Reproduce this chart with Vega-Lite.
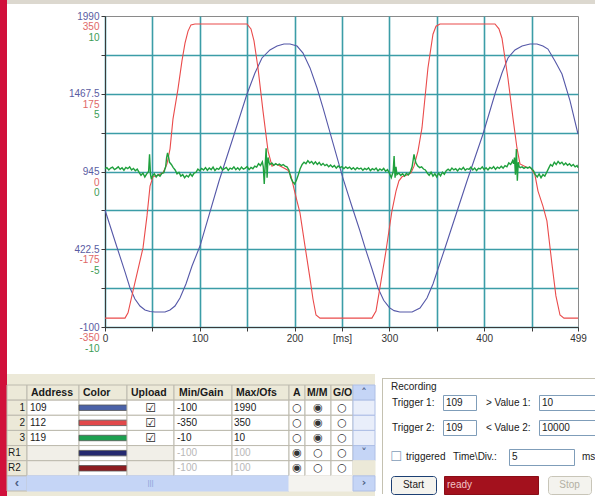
{
"$schema":"https://vega.github.io/schema/vega-lite/v6.json",
"padding":0,
"background":"#ffffff",
"config":{"font":"Liberation Sans","view":{"stroke":null,"fill":"#ece9d8"},"concat":{"spacing":0},"text":{"fontSize":10,"color":"#1a1a1a"}},
"datasets":{
"blue":[{"t":0,"v":686},{"t":10.5,"v":478},{"t":21.1,"v":270},{"t":26.4,"v":162},{"t":31.6,"v":88},{"t":36.9,"v":41},{"t":42.2,"v":14},{"t":47.5,"v":4},{"t":52.7,"v":1},{"t":63.3,"v":1},{"t":68.6,"v":14},{"t":73.8,"v":41},{"t":79.1,"v":95},{"t":85.4,"v":189},{"t":91.8,"v":310},{"t":100.2,"v":444},{"t":120.3,"v":881},{"t":135,"v":1170},{"t":149.8,"v":1466},{"t":158.2,"v":1607},{"t":165.6,"v":1708},{"t":174,"v":1762},{"t":181.5,"v":1788},{"t":188.8,"v":1802},{"t":195.2,"v":1802},{"t":202.6,"v":1788},{"t":208.9,"v":1741},{"t":216.3,"v":1641},{"t":223.7,"v":1506},{"t":230,"v":1372},{"t":251,"v":901},{"t":260,"v":720},{"t":269,"v":545},{"t":275,"v":420},{"t":281.7,"v":290},{"t":288,"v":162},{"t":294,"v":80},{"t":300,"v":30},{"t":305,"v":10},{"t":311,"v":1},{"t":324,"v":1},{"t":332.3,"v":28},{"t":339.7,"v":95},{"t":346,"v":189},{"t":358.7,"v":431},{"t":381.9,"v":881},{"t":398.8,"v":1197},{"t":411.4,"v":1466},{"t":418.8,"v":1607},{"t":425.1,"v":1708},{"t":432.5,"v":1762},{"t":440,"v":1788},{"t":448.4,"v":1802},{"t":455.7,"v":1802},{"t":462,"v":1788},{"t":467.3,"v":1768},{"t":474.7,"v":1688},{"t":482.1,"v":1600},{"t":490.6,"v":1419},{"t":499,"v":1197}],
"red":[{"t":0,"v":-330},{"t":21.1,"v":-330},{"t":24.3,"v":-318},{"t":29.5,"v":-269},{"t":40.1,"v":-172},{"t":44.3,"v":-100},{"t":47.5,"v":-33},{"t":50.6,"v":-12},{"t":55.9,"v":-8},{"t":61.2,"v":-3},{"t":65.4,"v":17},{"t":68.6,"v":51},{"t":71.7,"v":118},{"t":77,"v":186},{"t":81.2,"v":249},{"t":84.4,"v":289},{"t":87.6,"v":316},{"t":90.7,"v":330},{"t":94.9,"v":332},{"t":149.8,"v":332},{"t":154,"v":321},{"t":157.2,"v":294},{"t":161.4,"v":233},{"t":166.7,"v":136},{"t":172,"v":46},{"t":176.2,"v":12},{"t":180.4,"v":17},{"t":186.7,"v":10},{"t":193,"v":3},{"t":196.2,"v":-10},{"t":199.4,"v":-39},{"t":202.5,"v":-66},{"t":205.7,"v":-93},{"t":211,"v":-168},{"t":216.2,"v":-240},{"t":219.4,"v":-287},{"t":222.6,"v":-323},{"t":226.8,"v":-330},{"t":281.6,"v":-330},{"t":285.9,"v":-314},{"t":290,"v":-262},{"t":296.4,"v":-179},{"t":302.7,"v":-89},{"t":307,"v":-44},{"t":310.1,"v":-21},{"t":313.3,"v":-12},{"t":318.6,"v":-8},{"t":322.8,"v":-3},{"t":326,"v":12},{"t":330.2,"v":46},{"t":334.4,"v":98},{"t":340.7,"v":233},{"t":346,"v":309},{"t":349.2,"v":327},{"t":353.4,"v":332},{"t":411.4,"v":332},{"t":415.6,"v":321},{"t":418.8,"v":300},{"t":425.1,"v":210},{"t":430.4,"v":120},{"t":434.6,"v":53},{"t":437.8,"v":17},{"t":444.1,"v":10},{"t":449.4,"v":8},{"t":453.6,"v":-8},{"t":456.8,"v":-44},{"t":462,"v":-78},{"t":466.2,"v":-111},{"t":471.5,"v":-208},{"t":475.7,"v":-280},{"t":480,"v":-323},{"t":484.2,"v":-330},{"t":499,"v":-330}],
"green":[{"t":0,"v":0.18},{"t":2,"v":0.25},{"t":4,"v":0.1},{"t":6,"v":0.22},{"t":8,"v":0.28},{"t":10,"v":0.12},{"t":12,"v":0.2},{"t":14,"v":0.3},{"t":16,"v":0.14},{"t":18,"v":0.24},{"t":20,"v":0.08},{"t":22,"v":0.26},{"t":24,"v":0.18},{"t":26,"v":0.3},{"t":28,"v":0.1},{"t":30,"v":0.2},{"t":32,"v":0.05},{"t":34,"v":0.15},{"t":36,"v":-0.05},{"t":38,"v":-0.25},{"t":40,"v":-0.1},{"t":42,"v":-0.35},{"t":44,"v":-0.15},{"t":46,"v":0},{"t":47,"v":1.1},{"t":48,"v":-0.2},{"t":49,"v":-0.5},{"t":50,"v":-0.3},{"t":52,"v":-0.15},{"t":54,"v":-0.35},{"t":56,"v":-0.2},{"t":58,"v":-0.3},{"t":60,"v":-0.12},{"t":62,"v":-0.08},{"t":64,"v":0.3},{"t":65,"v":0.9},{"t":66,"v":1.2},{"t":67,"v":0.95},{"t":68,"v":0.6},{"t":70,"v":0.45},{"t":72,"v":0.25},{"t":74,"v":0.1},{"t":76,"v":-0.15},{"t":78,"v":-0.05},{"t":80,"v":-0.3},{"t":82,"v":-0.2},{"t":84,"v":-0.4},{"t":86,"v":-0.25},{"t":88,"v":-0.35},{"t":90,"v":-0.15},{"t":92,"v":-0.3},{"t":94,"v":-0.1},{"t":96,"v":-0.05},{"t":98,"v":0.15},{"t":100,"v":0.05},{"t":102,"v":0.2},{"t":104,"v":0.1},{"t":106,"v":0.25},{"t":108,"v":0.08},{"t":110,"v":0.22},{"t":112,"v":0.12},{"t":114,"v":0.28},{"t":116,"v":0.06},{"t":118,"v":0.2},{"t":120,"v":0.14},{"t":122,"v":0.3},{"t":124,"v":0.1},{"t":126,"v":0.18},{"t":128,"v":0.26},{"t":130,"v":0.08},{"t":132,"v":0.22},{"t":134,"v":0.16},{"t":136,"v":0.3},{"t":138,"v":0.12},{"t":140,"v":0.24},{"t":142,"v":0.1},{"t":144,"v":0.28},{"t":146,"v":0.15},{"t":148,"v":0.22},{"t":150,"v":0.32},{"t":152,"v":0.12},{"t":154,"v":0.26},{"t":156,"v":0.18},{"t":158,"v":0.35},{"t":160,"v":0.28},{"t":162,"v":0.5},{"t":164,"v":0.38},{"t":166,"v":0.62},{"t":167,"v":0.3},{"t":168,"v":-0.8},{"t":169,"v":0.4},{"t":170,"v":1.5},{"t":171,"v":-0.4},{"t":172,"v":0.9},{"t":173,"v":0.6},{"t":174,"v":0.45},{"t":176,"v":0.55},{"t":178,"v":0.4},{"t":180,"v":0.5},{"t":182,"v":0.42},{"t":184,"v":0.48},{"t":186,"v":0.38},{"t":188,"v":0.45},{"t":190,"v":0.35},{"t":192,"v":0.3},{"t":194,"v":0.1},{"t":196,"v":-0.4},{"t":198,"v":-0.65},{"t":200,"v":-0.8},{"t":202,"v":-0.55},{"t":204,"v":-0.2},{"t":206,"v":0.2},{"t":208,"v":0.45},{"t":210,"v":0.6},{"t":212,"v":0.5},{"t":214,"v":0.7},{"t":216,"v":0.55},{"t":218,"v":0.65},{"t":220,"v":0.48},{"t":222,"v":0.62},{"t":224,"v":0.45},{"t":226,"v":0.58},{"t":228,"v":0.4},{"t":230,"v":0.52},{"t":232,"v":0.38},{"t":234,"v":0.45},{"t":236,"v":0.3},{"t":238,"v":0.42},{"t":240,"v":0.28},{"t":242,"v":0.38},{"t":244,"v":0.22},{"t":246,"v":0.35},{"t":248,"v":0.25},{"t":250,"v":0.32},{"t":252,"v":0.18},{"t":254,"v":0.3},{"t":256,"v":0.2},{"t":258,"v":0.28},{"t":260,"v":0.14},{"t":262,"v":0.25},{"t":264,"v":0.12},{"t":266,"v":0.24},{"t":268,"v":0.16},{"t":270,"v":0.22},{"t":272,"v":0.08},{"t":274,"v":0.2},{"t":276,"v":0.12},{"t":278,"v":0.24},{"t":280,"v":0.06},{"t":282,"v":0.18},{"t":284,"v":0.1},{"t":286,"v":0.22},{"t":288,"v":0.04},{"t":290,"v":0.16},{"t":292,"v":0.08},{"t":294,"v":0.2},{"t":296,"v":0.02},{"t":298,"v":0.12},{"t":300,"v":-0.1},{"t":302,"v":-0.4},{"t":304,"v":0},{"t":305,"v":1},{"t":306,"v":-0.4},{"t":307,"v":0.3},{"t":308,"v":-0.2},{"t":310,"v":-0.1},{"t":312,"v":-0.25},{"t":314,"v":-0.15},{"t":316,"v":-0.3},{"t":318,"v":-0.12},{"t":320,"v":-0.22},{"t":322,"v":-0.05},{"t":324,"v":0.3},{"t":326,"v":1.1},{"t":327,"v":0.8},{"t":328,"v":0.55},{"t":330,"v":0.35},{"t":332,"v":0.25},{"t":334,"v":0.3},{"t":336,"v":0.16},{"t":338,"v":0.1},{"t":340,"v":-0.1},{"t":342,"v":-0.25},{"t":344,"v":-0.05},{"t":346,"v":-0.3},{"t":348,"v":-0.15},{"t":350,"v":-0.35},{"t":352,"v":-0.1},{"t":354,"v":-0.28},{"t":356,"v":-0.05},{"t":358,"v":-0.18},{"t":360,"v":0.05},{"t":362,"v":0.15},{"t":364,"v":0.05},{"t":366,"v":0.22},{"t":368,"v":0.1},{"t":370,"v":0.18},{"t":372,"v":0.04},{"t":374,"v":0.2},{"t":376,"v":0.12},{"t":378,"v":0.26},{"t":380,"v":0.08},{"t":382,"v":0.18},{"t":384,"v":0.14},{"t":386,"v":0.28},{"t":388,"v":0.1},{"t":390,"v":0.22},{"t":392,"v":0.06},{"t":394,"v":0.2},{"t":396,"v":0.16},{"t":398,"v":0.3},{"t":400,"v":0.12},{"t":402,"v":0.24},{"t":404,"v":0.1},{"t":406,"v":0.26},{"t":408,"v":0.18},{"t":410,"v":0.32},{"t":412,"v":0.14},{"t":414,"v":0.28},{"t":416,"v":0.2},{"t":418,"v":0.34},{"t":420,"v":0.22},{"t":422,"v":0.38},{"t":424,"v":0.3},{"t":426,"v":0.55},{"t":428,"v":0.45},{"t":430,"v":0.7},{"t":431,"v":0.5},{"t":432,"v":0.9},{"t":433,"v":-0.2},{"t":434,"v":1.45},{"t":435,"v":-0.6},{"t":436,"v":0.6},{"t":437,"v":0.3},{"t":438,"v":0.25},{"t":440,"v":0.3},{"t":442,"v":0.2},{"t":444,"v":0.28},{"t":446,"v":0.22},{"t":448,"v":0.3},{"t":450,"v":0.18},{"t":452,"v":0.05},{"t":454,"v":-0.2},{"t":456,"v":-0.35},{"t":458,"v":-0.15},{"t":460,"v":-0.4},{"t":462,"v":-0.2},{"t":464,"v":-0.3},{"t":466,"v":-0.05},{"t":468,"v":0.2},{"t":470,"v":0.45},{"t":472,"v":0.35},{"t":474,"v":0.6},{"t":476,"v":0.45},{"t":478,"v":0.65},{"t":480,"v":0.5},{"t":482,"v":0.6},{"t":484,"v":0.42},{"t":486,"v":0.55},{"t":488,"v":0.4},{"t":490,"v":0.5},{"t":492,"v":0.35},{"t":494,"v":0.45},{"t":496,"v":0.3},{"t":498,"v":0.38},{"t":499,"v":0.25}],
"tbl":[
{"row":"h","num":"","addr":"Address","color":"Color","upload":"Upload","min":"Min/Gain","max":"Max/Ofs","a":"A","mm":"M/M","go":"G/O","sw":null,"vs":"˄"},
{"row":"1","num":"1","addr":"109","color":"","upload":"☑","min":"-100","max":"1990","a":"○","mm":"◉","go":"○","sw":"109","vs":""},
{"row":"2","num":"2","addr":"112","color":"","upload":"☑","min":"-350","max":"350","a":"○","mm":"◉","go":"○","sw":"112","vs":""},
{"row":"3","num":"3","addr":"119","color":"","upload":"☑","min":"-10","max":"10","a":"○","mm":"◉","go":"○","sw":"119","vs":""},
{"row":"R1","num":"R1","addr":"","color":"","upload":"","min":"-100","max":"100","a":"◉","mm":"○","go":"○","sw":"R1","vs":"˅"},
{"row":"R2","num":"R2","addr":"","color":"","upload":"","min":"-100","max":"100","a":"◉","mm":"○","go":"○","sw":"R2","vs":""},
{"row":"sb","num":"‹","addr":"","color":"","upload":"|||","min":"","max":"","a":"","mm":"","go":"","sw":null,"vs":"›"}
]
},
"hconcat":[
{"width":7,"height":496,"data":{"values":[{}]},"mark":{"type":"rect","fill":"#d1103b"},"encoding":{}},
{"vconcat":[
 {"width":588,"height":4,"view":{"fill":"#dcd8cf"},"data":{"values":[{}]},"mark":{"type":"rect","opacity":0},"encoding":{}},
 {"width":588,"height":6,"view":{"fill":"#ffffff"},"data":{"values":[{}]},"mark":{"type":"rect","opacity":0},"encoding":{}},
 {"hconcat":[
  {"width":98,"height":311,"view":{"fill":"#ffffff"},"data":{"values":[{}]},"mark":{"type":"rect","opacity":0},"encoding":{}},
  {"width":473,"height":311,
   "view":{"fill":"#ffffff","stroke":"#8a8a8a"},
   "resolve":{"scale":{"y":"independent"},"axis":{"y":"independent"}},
   "layer":[
    {"data":{"name":"blue"},"mark":{"type":"line","stroke":"#5558a8","strokeWidth":1.1},
     "encoding":{
      "x":{"field":"t","type":"quantitative","scale":{"domain":[0,499],"nice":false,"zero":false},
       "axis":{"orient":"bottom","values":[0,50,100,150,200,250,300,350,400,450,499],"labelExpr":"datum.value == 250 ? '[ms]' : ((datum.value % 100 == 0 || datum.value == 499) ? toString(datum.value) : '')","grid":true,"gridColor":{"condition":{"test":"datum.value == 499","value":"transparent"},"value":"#3b9da7"},"gridWidth":1.6,"domainColor":"#3a3a3a","tickColor":"#3a3a3a","tickSize":4,"labelPadding":2,"labelColor":"#333333","labelFontSize":10,"labelFlush":false,"labelOverlap":false,"title":null,"minExtent":46,"maxExtent":46}},
      "y":{"field":"v","type":"quantitative","scale":{"domain":[-100,1990],"nice":false,"zero":false},
       "axis":{"orient":"left","values":[-100,161.25,422.5,683.75,945,1206.25,1467.5,1728.75,1990],"labelExpr":"(datum.value == -100 || datum.value == 422.5 || datum.value == 945 || datum.value == 1467.5 || datum.value == 1990) ? toString(datum.value) : ''","grid":true,"gridColor":{"condition":{"test":"datum.value == 1990","value":"transparent"},"value":"#3b9da7"},"gridWidth":1.6,"domainColor":"#3a3a3a","tickColor":"#3a3a3a","tickSize":4,"labelPadding":2,"labelColor":"#5a5ca2","labelFontSize":10,"labelOverlap":false,"labelFlush":false,"title":null}}
     }},
    {"data":{"name":"red"},"mark":{"type":"line","stroke":"#ea4b4b","strokeWidth":1.1},
     "encoding":{
      "x":{"field":"t","type":"quantitative"},
      "y":{"field":"v","type":"quantitative","scale":{"domain":[-350,350],"nice":false,"zero":false},
       "axis":{"orient":"left","values":[-350,-175,0,175,350],"labelExpr":"toString(datum.value)","grid":false,"domain":false,"ticks":true,"tickColor":"transparent","tickSize":4,"labelPadding":2,"labelOffset":10.5,"labelColor":"#e06868","labelFontSize":10,"labelOverlap":false,"labelFlush":false,"title":null}}
     }},
    {"data":{"name":"green"},"mark":{"type":"line","stroke":"#1fa03d","strokeWidth":1.4},
     "encoding":{
      "x":{"field":"t","type":"quantitative"},
      "y":{"field":"v","type":"quantitative","scale":{"domain":[-10,10],"nice":false,"zero":false},
       "axis":{"orient":"left","values":[-10,-5,0,5,10],"labelExpr":"toString(datum.value)","grid":false,"domain":false,"ticks":true,"tickColor":"transparent","tickSize":4,"labelPadding":2,"labelOffset":21,"labelColor":"#3c9c55","labelFontSize":10,"labelOverlap":false,"labelFlush":false,"title":null}}
     }}
   ]}
 ],"spacing":0,"bounds":"flush"},
 {"hconcat":[
  {"hconcat":[
   {"width":20,"height":124,"data":{"name":"tbl"},"encoding":{"y":{"field":"row","type":"nominal","scale":{"domain":["h","1","2","3","R1","R2","sb"],"range":[11,117],"paddingInner":0,"paddingOuter":0},"axis":null}},"layer":[
    {"mark":{"type":"rect","stroke":"#bdbaae","strokeWidth":1},"encoding":{"fill":{"condition":{"test":"datum.row=='sb'","value":"#c5d5f6"},"value":"#ece9d8"}}},
    {"transform":[{"filter":"datum.row=='1'||datum.row=='2'||datum.row=='3'"}],"mark":{"type":"text","align":"right","dx":8},"encoding":{"text":{"field":"num"}}},
    {"transform":[{"filter":"datum.row=='R1'||datum.row=='R2'"}],"mark":{"type":"text","align":"left","dx":-9},"encoding":{"text":{"field":"num"}}},
    {"transform":[{"filter":"datum.row=='sb'"}],"mark":{"type":"text","fontSize":13,"fontWeight":"bold","color":"#4d6185"},"encoding":{"text":{"field":"num"}}}
   ]},
   {"width":52,"height":124,"data":{"name":"tbl"},"encoding":{"y":{"field":"row","type":"nominal","scale":{"domain":["h","1","2","3","R1","R2","sb"],"range":[11,117],"paddingInner":0,"paddingOuter":0},"axis":null}},"layer":[
    {"mark":{"type":"rect","strokeWidth":1},"encoding":{"fill":{"condition":[{"test":"datum.row=='h'","value":"#ece9d8"},{"test":"datum.row=='sb'","value":"#c5d5f6"},{"test":"datum.row=='R1'||datum.row=='R2'","value":"#f1efe8"}],"value":"#ffffff"},"stroke":{"condition":{"test":"datum.row=='sb'","value":"#c5d5f6"},"value":"#bdbaae"}}},
    {"transform":[{"filter":"datum.row=='h'"}],"mark":{"type":"text","align":"left","dx":-22,"fontWeight":"bold","fontSize":10.5},"encoding":{"text":{"field":"addr"}}},
    {"transform":[{"filter":"datum.row!='h'&&datum.row!='sb'"}],"mark":{"type":"text","align":"left","dx":-23},"encoding":{"text":{"field":"addr"}}}
   ]},
   {"width":48,"height":124,"data":{"name":"tbl"},"encoding":{"y":{"field":"row","type":"nominal","scale":{"domain":["h","1","2","3","R1","R2","sb"],"range":[11,117],"paddingInner":0,"paddingOuter":0},"axis":null}},"layer":[
    {"mark":{"type":"rect","strokeWidth":1},"encoding":{"fill":{"condition":[{"test":"datum.row=='h'","value":"#ece9d8"},{"test":"datum.row=='sb'","value":"#c5d5f6"}],"value":"#ffffff"},"stroke":{"condition":{"test":"datum.row=='sb'","value":"#c5d5f6"},"value":"#bdbaae"}}},
    {"transform":[{"filter":"datum.row=='h'"}],"mark":{"type":"text","align":"left","dx":-20,"fontWeight":"bold","fontSize":10.5},"encoding":{"text":{"field":"color"}}},
    {"transform":[{"filter":"isValid(datum.sw)"}],"mark":{"type":"rect","height":{"band":0.36},"xOffset":3,"x2Offset":-3,"stroke":"#555555","strokeWidth":0.8},"encoding":{"fill":{"field":"sw","type":"nominal","scale":{"domain":["109","112","119","R1","R2"],"range":["#4b62a8","#e1484a","#1da04f","#25296f","#8d1d21"]},"legend":null}}}
   ]},
   {"width":47,"height":124,"data":{"name":"tbl"},"encoding":{"y":{"field":"row","type":"nominal","scale":{"domain":["h","1","2","3","R1","R2","sb"],"range":[11,117],"paddingInner":0,"paddingOuter":0},"axis":null}},"layer":[
    {"mark":{"type":"rect","strokeWidth":1},"encoding":{"fill":{"condition":[{"test":"datum.row=='h'","value":"#ece9d8"},{"test":"datum.row=='sb'","value":"#c5d5f6"},{"test":"datum.row=='R1'||datum.row=='R2'","value":"#f1efe8"}],"value":"#ffffff"},"stroke":{"condition":{"test":"datum.row=='sb'","value":"#c5d5f6"},"value":"#bdbaae"}}},
    {"transform":[{"filter":"datum.row=='h'"}],"mark":{"type":"text","align":"left","dx":-19.5,"fontWeight":"bold","fontSize":10.5},"encoding":{"text":{"field":"upload"}}},
    {"transform":[{"filter":"datum.row=='1'||datum.row=='2'||datum.row=='3'"}],"mark":{"type":"text","font":"DejaVu Sans","fontSize":12,"color":"#2a2a2a"},"encoding":{"text":{"field":"upload"}}},
    {"transform":[{"filter":"datum.row=='sb'"}],"mark":{"type":"text","fontSize":8,"color":"#8aa2d8"},"encoding":{"text":{"field":"upload"}}}
   ]},
   {"width":58,"height":124,"data":{"name":"tbl"},"encoding":{"y":{"field":"row","type":"nominal","scale":{"domain":["h","1","2","3","R1","R2","sb"],"range":[11,117],"paddingInner":0,"paddingOuter":0},"axis":null}},"layer":[
    {"mark":{"type":"rect","strokeWidth":1},"encoding":{"fill":{"condition":[{"test":"datum.row=='h'","value":"#ece9d8"},{"test":"datum.row=='sb'","value":"#c5d5f6"}],"value":"#ffffff"},"stroke":{"condition":{"test":"datum.row=='sb'","value":"#c5d5f6"},"value":"#bdbaae"}}},
    {"transform":[{"filter":"datum.row=='h'"}],"mark":{"type":"text","align":"left","dx":-24,"fontWeight":"bold","fontSize":10.5},"encoding":{"text":{"field":"min"}}},
    {"transform":[{"filter":"datum.row!='h'&&datum.row!='sb'"}],"mark":{"type":"text","align":"left","dx":-26},"encoding":{"text":{"field":"min"},"color":{"condition":{"test":"datum.row=='R1'||datum.row=='R2'","value":"#b8b8b8"},"value":"#1a1a1a"}}}
   ]},
   {"width":57,"height":124,"data":{"name":"tbl"},"encoding":{"y":{"field":"row","type":"nominal","scale":{"domain":["h","1","2","3","R1","R2","sb"],"range":[11,117],"paddingInner":0,"paddingOuter":0},"axis":null}},"layer":[
    {"mark":{"type":"rect","strokeWidth":1},"encoding":{"fill":{"condition":[{"test":"datum.row=='h'","value":"#ece9d8"},{"test":"datum.row=='sb'","value":"#c5d5f6"}],"value":"#ffffff"},"stroke":{"condition":{"test":"datum.row=='sb'","value":"#c5d5f6"},"value":"#bdbaae"}}},
    {"transform":[{"filter":"datum.row=='h'"}],"mark":{"type":"text","align":"left","dx":-24.5,"fontWeight":"bold","fontSize":10.5},"encoding":{"text":{"field":"max"}}},
    {"transform":[{"filter":"datum.row!='h'&&datum.row!='sb'"}],"mark":{"type":"text","align":"left","dx":-26.5},"encoding":{"text":{"field":"max"},"color":{"condition":{"test":"datum.row=='R1'||datum.row=='R2'","value":"#b8b8b8"},"value":"#1a1a1a"}}}
   ]},
   {"width":16,"height":124,"data":{"name":"tbl"},"encoding":{"y":{"field":"row","type":"nominal","scale":{"domain":["h","1","2","3","R1","R2","sb"],"range":[11,117],"paddingInner":0,"paddingOuter":0},"axis":null}},"layer":[
    {"mark":{"type":"rect","strokeWidth":1},"encoding":{"fill":{"condition":[{"test":"datum.row=='h'","value":"#ece9d8"},{"test":"datum.row=='sb'","value":"#f4f3ef"}],"value":"#ffffff"},"stroke":{"condition":{"test":"datum.row=='sb'","value":"#f4f3ef"},"value":"#bdbaae"}}},
    {"transform":[{"filter":"datum.row=='h'"}],"mark":{"type":"text","align":"left","dx":-4,"fontWeight":"bold","fontSize":10.5},"encoding":{"text":{"field":"a"}}},
    {"transform":[{"filter":"datum.row!='h'&&datum.row!='sb'"}],"mark":{"type":"text","font":"DejaVu Sans","fontSize":11,"color":"#333333"},"encoding":{"text":{"field":"a"}}}
   ]},
   {"width":26,"height":124,"data":{"name":"tbl"},"encoding":{"y":{"field":"row","type":"nominal","scale":{"domain":["h","1","2","3","R1","R2","sb"],"range":[11,117],"paddingInner":0,"paddingOuter":0},"axis":null}},"layer":[
    {"mark":{"type":"rect","strokeWidth":1},"encoding":{"fill":{"condition":[{"test":"datum.row=='h'","value":"#ece9d8"},{"test":"datum.row=='sb'","value":"#f4f3ef"}],"value":"#ffffff"},"stroke":{"condition":{"test":"datum.row=='sb'","value":"#f4f3ef"},"value":"#bdbaae"}}},
    {"transform":[{"filter":"datum.row=='h'"}],"mark":{"type":"text","align":"left","dx":-11,"fontWeight":"bold","fontSize":10.5},"encoding":{"text":{"field":"mm"}}},
    {"transform":[{"filter":"datum.row!='h'&&datum.row!='sb'"}],"mark":{"type":"text","font":"DejaVu Sans","fontSize":11,"color":"#333333"},"encoding":{"text":{"field":"mm"}}}
   ]},
   {"width":22,"height":124,"data":{"name":"tbl"},"encoding":{"y":{"field":"row","type":"nominal","scale":{"domain":["h","1","2","3","R1","R2","sb"],"range":[11,117],"paddingInner":0,"paddingOuter":0},"axis":null}},"layer":[
    {"mark":{"type":"rect","strokeWidth":1},"encoding":{"fill":{"condition":[{"test":"datum.row=='h'","value":"#ece9d8"},{"test":"datum.row=='sb'","value":"#f4f3ef"}],"value":"#ffffff"},"stroke":{"condition":{"test":"datum.row=='sb'","value":"#f4f3ef"},"value":"#bdbaae"}}},
    {"transform":[{"filter":"datum.row=='h'"}],"mark":{"type":"text","align":"left","dx":-9,"fontWeight":"bold","fontSize":10.5},"encoding":{"text":{"field":"go"}}},
    {"transform":[{"filter":"datum.row!='h'&&datum.row!='sb'"}],"mark":{"type":"text","font":"DejaVu Sans","fontSize":11,"color":"#333333"},"encoding":{"text":{"field":"go"}}}
   ]},
   {"width":22,"height":124,"data":{"name":"tbl"},"encoding":{"y":{"field":"row","type":"nominal","scale":{"domain":["h","1","2","3","R1","R2","sb"],"range":[11,117],"paddingInner":0,"paddingOuter":0},"axis":null}},"layer":[
    {"mark":{"type":"rect","strokeWidth":1},"encoding":{"fill":{"condition":[{"test":"datum.row=='h'||datum.row=='R1'||datum.row=='sb'","value":"#c5d5f6"},{"test":"datum.row=='R2'","value":"#ece9d8"}],"value":"#e9eefa"},"stroke":{"condition":{"test":"datum.row=='R2'","value":"#ece9d8"},"value":"#aebfe6"}}},
    {"mark":{"type":"text","fontSize":11,"fontWeight":"bold","color":"#4d6185","font":"DejaVu Sans"},"encoding":{"text":{"field":"vs"}}}
   ]}
  ],"spacing":0,"bounds":"flush"},
  {"hconcat":[
   {"width":6,"height":124,"data":{"values":[{}]},"mark":{"type":"rect","opacity":0},"encoding":{}},
   {"vconcat":[
    {"width":1,"height":4,"data":{"values":[{}]},"mark":{"type":"rect","opacity":0},"encoding":{}},
    {"width":1,"height":116,"view":{"fill":"#c4c1b1"},"data":{"values":[{}]},"mark":{"type":"rect","opacity":0},"encoding":{}},
    {"width":1,"height":4,"data":{"values":[{}]},"mark":{"type":"rect","opacity":0},"encoding":{}}
   ],"spacing":0,"bounds":"flush"},
   {"vconcat":[
    {"width":213,"height":4,"data":{"values":[{}]},"mark":{"type":"rect","opacity":0},"encoding":{}},
    {"width":213,"height":1,"view":{"fill":"#c4c1b1"},"data":{"values":[{}]},"mark":{"type":"rect","opacity":0},"encoding":{}},
    {"width":213,"height":15,"data":{"values":[{"t":"Recording"}]},"mark":{"type":"text","align":"left","dx":-98.5,"color":"#222222"},"encoding":{"text":{"field":"t"}}},
    {"hconcat":[
     {"width":60,"height":15,"data":{"values":[{"t":"Trigger 1:"}]},"mark":{"type":"text","align":"left","dx":-21},"encoding":{"text":{"field":"t"}}},
     {"width":33,"height":15,"view":{"fill":"#ffffff","stroke":"#7f9db9"},"data":{"values":[{"t":"109"}]},"mark":{"type":"text","align":"left","dx":-13.5},"encoding":{"text":{"field":"t"}}},
     {"width":63,"height":15,"data":{"values":[{"t":"> Value 1:"}]},"mark":{"type":"text","align":"left","dx":-21.5},"encoding":{"text":{"field":"t"}}},
     {"width":57,"height":15,"view":{"fill":"#ffffff","stroke":"#7f9db9"},"data":{"values":[{"t":"10"}]},"mark":{"type":"text","align":"left","dx":-25.5},"encoding":{"text":{"field":"t"}}}
    ],"spacing":0,"bounds":"flush"},
    {"width":213,"height":8,"data":{"values":[{}]},"mark":{"type":"rect","opacity":0},"encoding":{}},
    {"hconcat":[
     {"width":60,"height":15,"data":{"values":[{"t":"Trigger 2:"}]},"mark":{"type":"text","align":"left","dx":-21},"encoding":{"text":{"field":"t"}}},
     {"width":33,"height":15,"view":{"fill":"#ffffff","stroke":"#7f9db9"},"data":{"values":[{"t":"109"}]},"mark":{"type":"text","align":"left","dx":-13.5},"encoding":{"text":{"field":"t"}}},
     {"width":63,"height":15,"data":{"values":[{"t":"< Value 2:"}]},"mark":{"type":"text","align":"left","dx":-21.5},"encoding":{"text":{"field":"t"}}},
     {"width":57,"height":15,"view":{"fill":"#ffffff","stroke":"#7f9db9"},"data":{"values":[{"t":"10000"}]},"mark":{"type":"text","align":"left","dx":-25.5},"encoding":{"text":{"field":"t"}}}
    ],"spacing":0,"bounds":"flush"},
    {"width":213,"height":12,"data":{"values":[{}]},"mark":{"type":"rect","opacity":0},"encoding":{}},
    {"hconcat":[
     {"width":21,"height":16,"data":{"values":[{"t":"☐"}]},"mark":{"type":"text","font":"DejaVu Sans","fontSize":13,"color":"#7f9db9","dx":2.5},"encoding":{"text":{"field":"t"}}},
     {"width":49,"height":16,"data":{"values":[{"t":"triggered"}]},"mark":{"type":"text","align":"left","dx":-22.5},"encoding":{"text":{"field":"t"}}},
     {"width":56,"height":16,"data":{"values":[{"t":"Time\\Div.:"}]},"mark":{"type":"text","align":"left","dx":-28},"encoding":{"text":{"field":"t"}}},
     {"width":65,"height":16,"view":{"fill":"#ffffff","stroke":"#7f9db9"},"data":{"values":[{"t":"5"}]},"mark":{"type":"text","align":"left","dx":-29.5},"encoding":{"text":{"field":"t"}}},
     {"width":22,"height":16,"data":{"values":[{"t":"ms"}]},"mark":{"type":"text","align":"left","dx":-3},"encoding":{"text":{"field":"t"}}}
    ],"spacing":0,"bounds":"flush"},
    {"width":213,"height":9,"data":{"values":[{}]},"mark":{"type":"rect","opacity":0},"encoding":{}},
    {"hconcat":[
     {"width":8,"height":18,"data":{"values":[{}]},"mark":{"type":"rect","opacity":0},"encoding":{}},
     {"width":45,"height":18,"view":{"fill":"#f4f3ee","stroke":"#1c3f73","cornerRadius":3},"data":{"values":[{"t":"Start"}]},"mark":{"type":"text"},"encoding":{"text":{"field":"t"}}},
     {"width":8,"height":18,"data":{"values":[{}]},"mark":{"type":"rect","opacity":0},"encoding":{}},
     {"width":94,"height":18,"view":{"fill":"#a3111d","stroke":"#8a0d17"},"data":{"values":[{"t":"ready"}]},"mark":{"type":"text","align":"left","dx":-44,"color":"#f2c4c6"},"encoding":{"text":{"field":"t"}}},
     {"width":10,"height":18,"data":{"values":[{}]},"mark":{"type":"rect","opacity":0},"encoding":{}},
     {"width":43,"height":18,"view":{"fill":"#f4f3ee","stroke":"#c8c5b8","cornerRadius":3},"data":{"values":[{"t":"Stop"}]},"mark":{"type":"text","color":"#b3b0a3"},"encoding":{"text":{"field":"t"}}},
     {"width":5,"height":18,"data":{"values":[{}]},"mark":{"type":"rect","opacity":0},"encoding":{}}
    ],"spacing":0,"bounds":"flush"},
    {"width":213,"height":7,"data":{"values":[{}]},"mark":{"type":"rect","opacity":0},"encoding":{}},
    {"width":213,"height":1,"view":{"fill":"#c4c1b1"},"data":{"values":[{}]},"mark":{"type":"rect","opacity":0},"encoding":{}},
    {"width":213,"height":3,"data":{"values":[{}]},"mark":{"type":"rect","opacity":0},"encoding":{}}
   ],"spacing":0}
  ],"spacing":0}
 ],"spacing":0}
],"spacing":0}
],
"spacing":0,
"bounds":"flush"
}
